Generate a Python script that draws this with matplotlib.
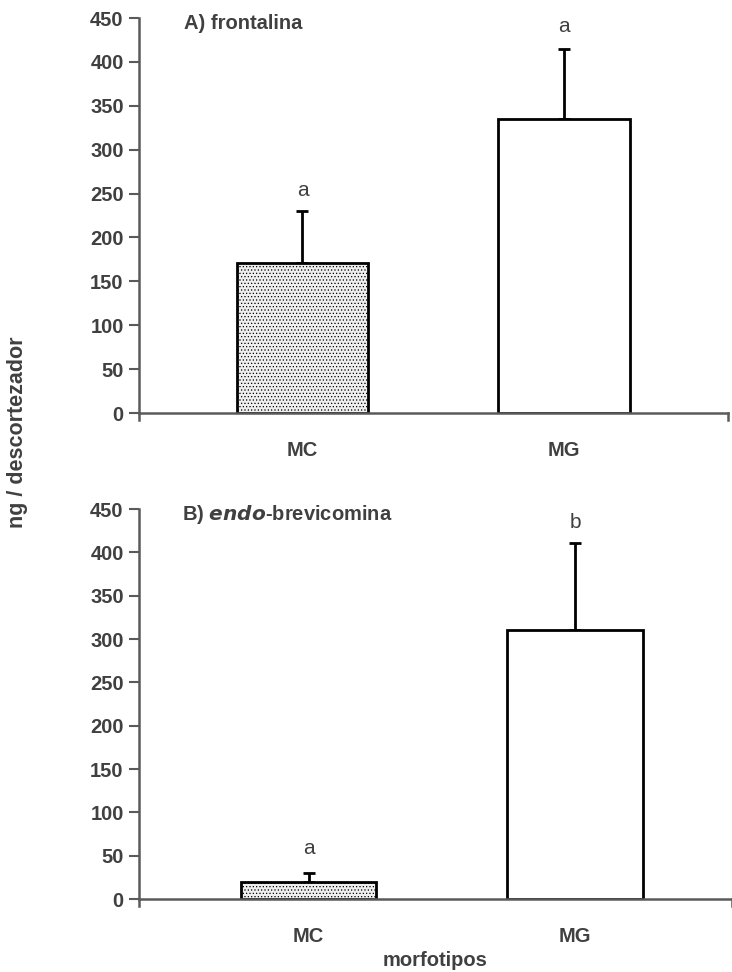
import matplotlib
matplotlib.use("Agg")
import matplotlib.pyplot as plt

plt.rcParams['font.family'] = ['Liberation Sans', 'DejaVu Sans']
plt.rcParams['hatch.color'] = '#c8c8c8'
plt.rcParams['hatch.linewidth'] = 0.5

categories = ["MC", "MG"]
frontalina_mean = [171, 335]
frontalina_err = [59, 80]
frontalina_letters = ["a", "a"]
endo_mean = [20, 310]
endo_err = [9.5, 101]
endo_letters = ["a", "b"]
yticks = [0, 50, 100, 150, 200, 250, 300, 350, 400, 450]

W, H = 732, 972
fig = plt.figure(figsize=(W / 100, H / 100), dpi=100)

grey_txt = '#404040'
spine_c = '#5a5a5a'
fills = ['#efefef', 'white']
hatches = ['.....', '']
FS = 14.5


def panel(rect, means, errs, letters, xlim, letter_pos, width):
    ax = fig.add_axes(rect)
    x = list(range(len(categories)))
    bars = ax.bar(x, means, width=width, color=fills, edgecolor='black', linewidth=2, zorder=2)
    for b, h in zip(bars, hatches):
        b.set_hatch(h)
    ax.errorbar(x, means, yerr=[[0] * len(errs), errs], fmt='none', ecolor='black',
                elinewidth=2, capsize=4, capthick=2, zorder=1)
    for xi, lt, yp in zip(x, letters, letter_pos):
        ax.text(xi, yp, lt, ha='center', va='center', fontsize=15, color=grey_txt)
    ax.set_xlim(*xlim)
    ax.set_ylim(0, 450)
    ax.set_yticks(yticks)
    ax.set_yticklabels([str(t) for t in yticks], fontsize=FS, fontweight='bold', color=grey_txt)
    ax.set_xticks(x)
    ax.set_xticklabels(categories, fontsize=FS, fontweight='bold', color=grey_txt)
    ax.tick_params(axis='x', length=0, pad=20)
    ax.tick_params(axis='y', direction='out', length=7, width=1.5, color=spine_c, pad=4)
    for s in ['top', 'right']:
        ax.spines[s].set_visible(False)
    for s in ['left', 'bottom']:
        ax.spines[s].set_color(spine_c)
        ax.spines[s].set_linewidth(1.8)
    for xe in xlim:
        ax.plot([xe, xe], [0, -8], color=spine_c, lw=1.8, clip_on=False)
    return ax


axA = panel([139 / W, 1 - 413 / H, (728 - 139) / W, (413 - 18) / H],
            frontalina_mean, frontalina_err, frontalina_letters,
            (-0.625, 1.627), [254, 440], 0.503)
axA.text(0.077, 0.985, "A) frontalina", transform=axA.transAxes, ha='left', va='center',
         fontsize=FS, fontweight='bold', color=grey_txt)
axB = panel([139 / W, 1 - 899 / H, (732 - 139) / W, (899 - 509) / H],
            endo_mean, endo_err, endo_letters,
            (-0.636, 1.589), [58, 434], 0.507)
axB.text(0.072, 0.985, "B) $\\mathbfit{endo}$-brevicomina", transform=axB.transAxes,
         ha='left', va='center', fontsize=FS, fontweight='bold', color=grey_txt)
axB.set_xlabel("morfotipos", fontsize=FS, fontweight='bold', color=grey_txt, labelpad=4)

fig.text(18 / W, 1 - 432 / H, "ng / descortezador", rotation=90, ha='center', va='center',
         fontsize=15.5, fontweight='bold', color=grey_txt)

fig.savefig("out.png", dpi=100)
